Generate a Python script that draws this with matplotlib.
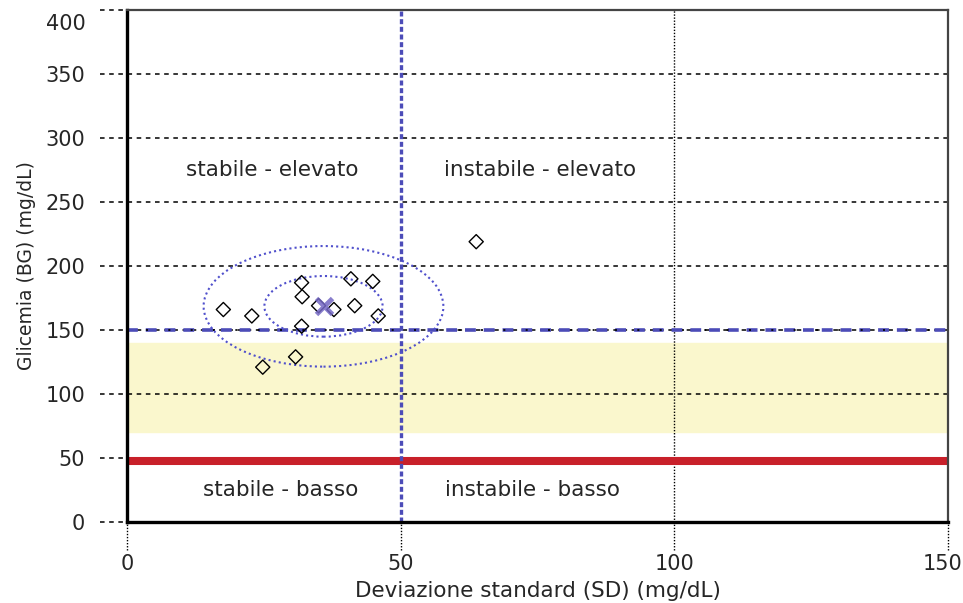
import matplotlib.pyplot as plt
from matplotlib.patches import Ellipse
from matplotlib.transforms import ScaledTranslation

# readings: SD (x) vs mean glucose (y)
sd_vals = [17.6, 22.8, 31.9, 32.0, 31.9, 24.8, 30.8, 35.0, 37.8, 40.9, 44.9, 41.6, 45.9, 63.8]
bg_vals = [166, 161, 187, 176, 153, 121, 129, 169, 166, 190, 188, 169, 161, 219]

mean_pt = (35.9, 168.5)
ellipse_radii = [(10.8, 23.7), (21.9, 47.1)]   # half width / half height
target_range = (70, 140)
low_line = 48
sd_split = 50
bg_split = 150

zone_labels = ["stabile - elevato", "instabile - elevato", "stabile - basso", "instabile - basso"]
zone_pos = [(26.5, 275), (75.5, 275), (28, 25), (74, 25)]

yticks = [0, 50, 100, 150, 200, 250, 300, 350, 400]
xticks = [0, 50, 100, 150]

txt = "#262626"
blue = "#4c4cb8"

fig = plt.figure(figsize=(9.63, 6.03), dpi=100)
ax = fig.add_axes([0.1319, 0.1343, 0.8525, 0.8491])
ax.set_xlim(0, 150)
ax.set_ylim(0, 400)

# target band and low line
ax.axhspan(target_range[0], target_range[1], color="#faf7cd", zorder=0)
ax.axhline(low_line, color="#c8202a", lw=5.8, zorder=2)

# grid, extended outside the frame like tick marks
ytr = ax.get_yaxis_transform()
xtr = ax.get_xaxis_transform()
for y in yticks:
    ax.plot([-0.033, 1], [y, y], transform=ytr, color="black", lw=1.1,
            ls=(0, (3, 3)), clip_on=False, zorder=1)
for x in xticks:
    top = 1 if x == 100 else 0
    ax.plot([x, x], [-0.055, top], transform=xtr, color="black", lw=1.0,
            ls=(0, (1, 1.2)), clip_on=False, zorder=1)

# quadrant split lines
ax.axhline(bg_split, color=blue, lw=2.6, ls=(0, (3, 2.2)), zorder=3)
ax.axhline(bg_split, color="black", lw=1.2, ls=(2, (1.2, 12.2)), zorder=3)
ax.axvline(sd_split, color=blue, lw=2.4, ls=(0, (1.5, 0.8)), zorder=3)

# ellipses around mean
for rx, ry in ellipse_radii:
    ax.add_patch(Ellipse(mean_pt, 2 * rx, 2 * ry, fill=False, ec="#5050cc",
                         lw=1.5, ls=(0, (1, 1.5)), zorder=4))

ax.scatter(sd_vals, bg_vals, marker="D", s=52, facecolors="none",
           edgecolors="black", linewidths=1.0, zorder=5)
ax.plot(*mean_pt, marker="x", ms=12, mew=3.5, color="#7468c4", alpha=0.85, zorder=6)

for label, (x, y) in zip(zone_labels, zone_pos):
    ax.text(x, y, label, ha="center", va="center", fontsize=15.5, color=txt)

ax.set_xticks(xticks)
ax.set_yticks(yticks)
ax.tick_params(length=0, labelsize=15, labelcolor=txt)
ax.tick_params(axis="y", pad=30)
ax.tick_params(axis="x", pad=23)
last = ax.get_xticklabels()[-1]
last.set_horizontalalignment("right")
last.set_transform(last.get_transform() + ScaledTranslation(0.14, 0, fig.dpi_scale_trans))
top_lbl = ax.get_yticklabels()[-1]
top_lbl.set_transform(top_lbl.get_transform() + ScaledTranslation(0, -0.12, fig.dpi_scale_trans))
ax.set_xlabel("Deviazione standard (SD) (mg/dL)", fontsize=15.5, color=txt, labelpad=5)
ax.set_ylabel("Glicemia (BG) (mg/dL)", fontsize=13.5, color=txt, labelpad=7)

for side in ["left", "bottom"]:
    ax.spines[side].set_linewidth(2.4)
    ax.spines[side].set_color("black")
for side in ["top", "right"]:
    ax.spines[side].set_linewidth(1.6)
    ax.spines[side].set_color("#444444")
for s in ax.spines.values():
    s.set_zorder(7)

fig.savefig("out.png", dpi=100)
